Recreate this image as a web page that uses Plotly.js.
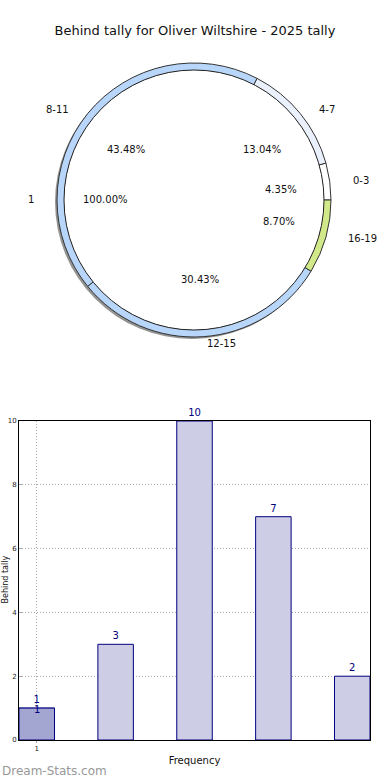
<!DOCTYPE html>
<html>
<head>
<meta charset="utf-8">
<script src="https://cdn.plot.ly/plotly-3.0.1.min.js"></script>
<style>html,body{margin:0;padding:0;background:#fff;}#chart{width:390px;height:780px;}</style>
</head>
<body>
<div id="chart"></div>
<script>
// ---- data ----
const chartTitle = 'Behind tally for Oliver Wiltshire - 2025 tally';
const ringLabels = ['0-3', '4-7', '8-11', '12-15', '16-19'];
const ringValues = [1, 3, 10, 7, 2];
const ringColors = ['#ffffff', '#eaf0fc', '#b8d6fa', '#b8d6fa', '#d2e98a'];
const innerLabels = ['1'];
const innerValues = [23];
const barPositions = [0, 1, 2, 3, 4];
const barValues = [1, 3, 10, 7, 2];
const highlightPositions = [0];
const highlightValues = [1];
const xTickVals = [0];
const xTickText = ['1'];
const xTitle = 'Frequency';
const yTitle = 'Behind tally';
const watermark = 'Dream-Stats.com';

// ---- layout constants (pixels) ----
const W = 390, H = 780;
const cx = 194, cy = 200, R = 137, Rin = 130;
const pctRx = 88, pctRy = 80, labRx = 158, labRy = 144;
const font = 'DejaVu Sans, Liberation Sans, sans-serif';

function dom(c, r) { return [(c - r) / W, (c + r) / W]; }
function domY(c, r) { return [(H - c - r) / H, (H - c + r) / H]; }
const px = x => x / W, py = y => 1 - y / H;

const total = ringValues.reduce((a, b) => a + b, 0);
const innerTotal = innerValues.reduce((a, b) => a + b, 0);
// Plotly's counterclockwise pies place the first slice clockwise of `rotation`;
// shift so that the first slice starts at 3 o'clock and runs counterclockwise.
const ringRotation = 90 - 360 * ringValues[0] / total;

const traces = [];
// shadow
traces.push({
  type: 'pie', values: innerValues, labels: ['shadow'], sort: false,
  marker: {colors: ['rgba(60,60,60,0.55)'], line: {width: 0}},
  textinfo: 'none', hoverinfo: 'skip', showlegend: false,
  domain: {x: dom(cx - 2, R), y: domY(cy + 2, R)}
});
// outer ring
traces.push({
  type: 'pie', values: ringValues, labels: ringLabels, sort: false,
  direction: 'counterclockwise', rotation: ringRotation, hole: 0.945,
  marker: {colors: ringColors, line: {color: '#333333', width: 1}},
  textinfo: 'none', showlegend: false,
  domain: {x: dom(cx, R), y: domY(cy, R)}
});
// inner pie
traces.push({
  type: 'pie', values: innerValues, labels: innerLabels, sort: false,
  direction: 'counterclockwise', rotation: 90,
  marker: {colors: ['#ffffff'], line: {color: '#222222', width: 1}},
  textinfo: 'none', showlegend: false,
  domain: {x: dom(cx, Rin), y: domY(cy, Rin)}
});
// bars
traces.push({
  type: 'bar', x: barPositions, y: barValues, width: 0.45,
  marker: {color: '#cdcde5', line: {color: '#000080', width: 1}},
  text: barValues.map(String), textposition: 'outside', cliponaxis: false,
  textfont: {family: font, size: 10, color: '#000080'},
  xaxis: 'x', yaxis: 'y', showlegend: false
});
traces.push({
  type: 'bar', x: highlightPositions, y: highlightValues, width: 0.45,
  marker: {color: '#a4a6d2', line: {color: '#000080', width: 1}},
  textinfo: 'none',
  xaxis: 'x', yaxis: 'y', showlegend: false
});

const annotations = [];
let cum = 0;
ringValues.forEach((v, i) => {
  const th = 2 * Math.PI * (cum + v / 2) / total;
  cum += v;
  const c = Math.cos(th), s = Math.sin(th);
  annotations.push({
    text: (100 * v / total).toFixed(2) + '%', showarrow: false,
    xref: 'paper', yref: 'paper', x: px(cx + pctRx * c), y: py(cy - pctRy * s),
    xanchor: 'center', yanchor: 'middle', font: {family: font, size: 10, color: '#111'}
  });
  annotations.push({
    text: ringLabels[i], showarrow: false,
    xref: 'paper', yref: 'paper', x: px(cx + labRx * c), y: py(cy - labRy * s),
    xanchor: c >= 0 ? 'left' : 'right', yanchor: 'middle', font: {family: font, size: 10, color: '#111'}
  });
});
let icum = 0;
innerValues.forEach((v, i) => {
  const th = 2 * Math.PI * (icum + v / 2) / innerTotal;
  icum += v;
  const c = Math.cos(th), s = Math.sin(th);
  annotations.push({
    text: (100 * v / innerTotal).toFixed(2) + '%', showarrow: false,
    xref: 'paper', yref: 'paper', x: px(cx + pctRx * c), y: py(cy - pctRy * s),
    xanchor: 'center', yanchor: 'middle', font: {family: font, size: 10, color: '#111'}
  });
  annotations.push({
    text: innerLabels[i], showarrow: false,
    xref: 'paper', yref: 'paper', x: px(cx + labRx * c), y: py(cy - labRy * s),
    xanchor: c >= 0 ? 'left' : 'right', yanchor: 'middle', font: {family: font, size: 10, color: '#111'}
  });
});
// second value label on the highlighted bar
highlightValues.forEach((v, i) => {
  annotations.push({
    text: String(v), showarrow: false, xref: 'x', yref: 'y',
    x: highlightPositions[i], y: v, yshift: -1,
    xanchor: 'center', yanchor: 'middle', font: {family: font, size: 10, color: '#000080'}
  });
});
annotations.push({
  text: yTitle, showarrow: false, textangle: -90,
  xref: 'paper', yref: 'paper', x: px(4.5), y: py(580),
  xanchor: 'center', yanchor: 'middle', font: {family: font, size: 8, color: '#111'}
});
annotations.push({
  text: watermark, showarrow: false,
  xref: 'paper', yref: 'paper', x: px(0), y: py(771),
  xanchor: 'left', yanchor: 'middle', font: {family: font, size: 12, color: '#999999'}
});

const layout = {
  width: W, height: H, margin: {l: 0, r: 0, t: 0, b: 0},
  paper_bgcolor: '#ffffff', plot_bgcolor: '#ffffff',
  font: {family: font, color: '#111'},
  title: {text: chartTitle, x: 0.5, xref: 'paper', y: py(30), yref: 'paper', yanchor: 'middle',
          font: {family: font, size: 13, color: '#111'}},
  barmode: 'overlay', bargap: 0,
  xaxis: {
    domain: [px(19), px(370)], anchor: 'y', range: [-0.225, 4.225],
    tickvals: xTickVals, ticktext: xTickText, tickfont: {size: 7, color: '#222'},
    showgrid: true, gridcolor: '#aaaaaa', griddash: '1px,2px', zeroline: false,
    showline: true, mirror: true, linecolor: '#000', linewidth: 1,
    ticks: 'outside', ticklen: 2, tickcolor: '#aaa',
    title: {text: xTitle, font: {size: 10, color: '#111'}, standoff: 4}
  },
  yaxis: {
    domain: [py(740), py(421)], anchor: 'x', range: [0, 10],
    tickvals: [0, 2, 4, 6, 8, 10], tickfont: {size: 7, color: '#222'},
    showgrid: true, gridcolor: '#aaaaaa', griddash: '1px,2px', zeroline: false,
    showline: true, mirror: true, linecolor: '#000', linewidth: 1,
    ticks: 'inside', ticklen: 3, tickcolor: '#aaa'
  },
  annotations: annotations
};

Plotly.newPlot('chart', traces, layout, {displayModeBar: false, staticPlot: true});
</script>
</body>
</html>
